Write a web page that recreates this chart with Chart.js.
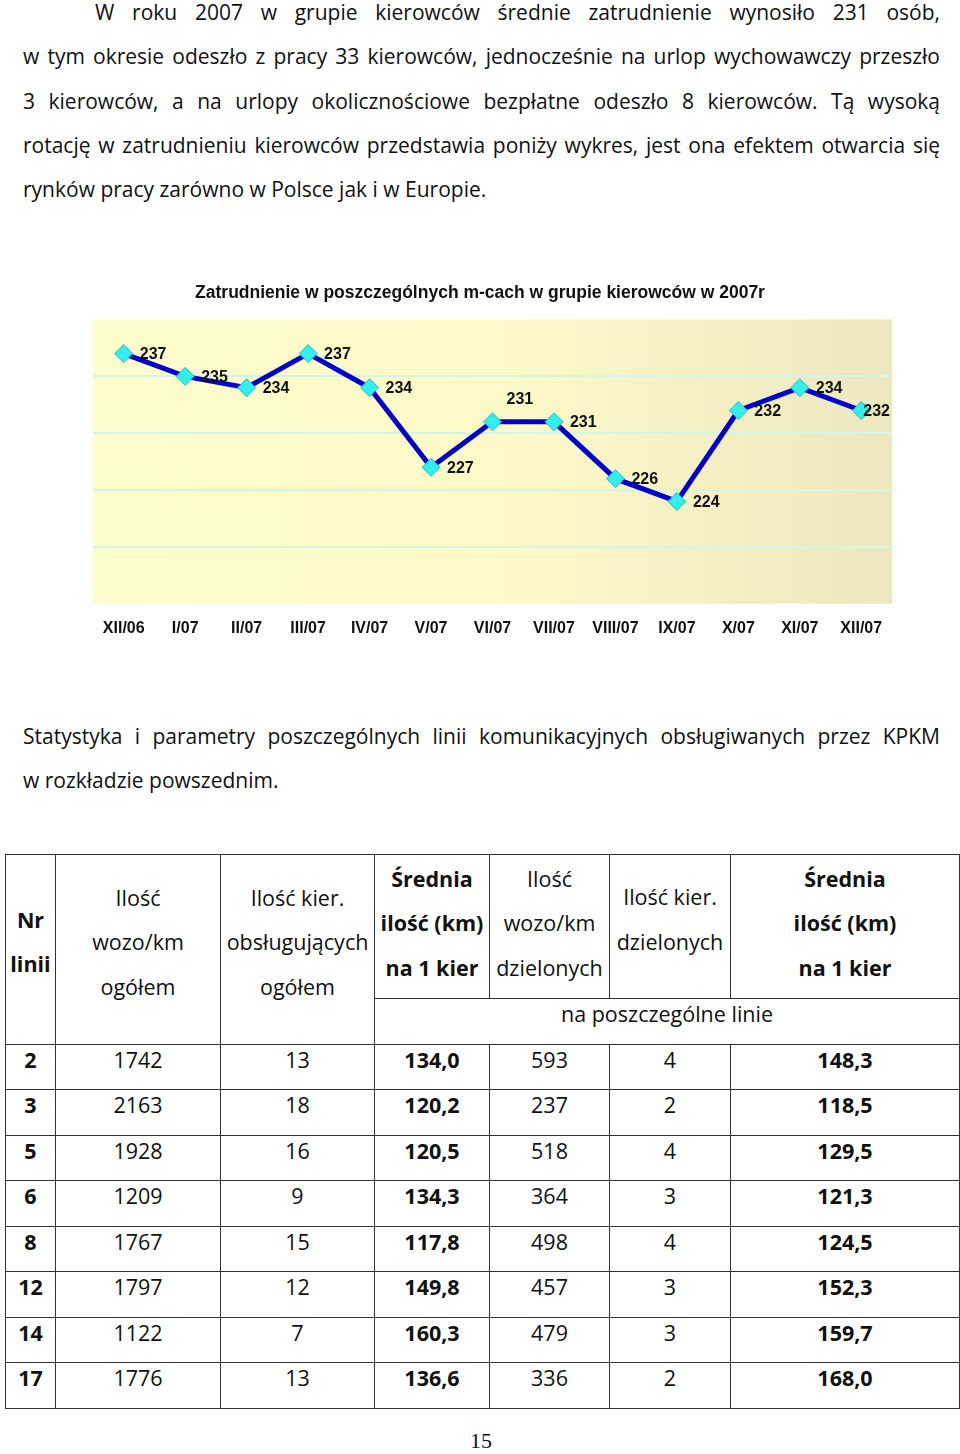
<!DOCTYPE html>
<html>
<head>
<meta charset="utf-8">
<script src="https://cdn.jsdelivr.net/npm/chart.js@4.4.0/dist/chart.umd.min.js"></script>
<style>
    body { margin: 0; width: 960px; height: 1454px; position: relative; overflow: hidden; background: #fff; font-family: 'Open Sans', sans-serif; color: #111; }
    .txt { position: absolute; left: 23px; width: 917px; font-size: 21px; line-height: 44.3px; }
    .txt div { white-space: nowrap; text-align: justify; text-align-last: justify; }
    .txt div.last { text-align-last: left; }
    .txt div.ind { padding-left: 72px; }
    #chartBox { position: absolute; left: 56px; top: 270px; width: 848px; height: 383px; }
    table { position: absolute; left: 5px; top: 854px; border-collapse: collapse; font-size: 21.5px; table-layout: fixed; }
    td { border: 1.6px solid #333; text-align: center; vertical-align: middle; padding: 0; line-height: 44.5px; }
    td span { position: relative; top: -7px; }
    td span.up3 { top: -3px; }
    .b { font-weight: bold; }
    tbody tr { height: 45.4px; }
    #page { position: absolute; left: 470px; top: 1428px; font-family: 'Liberation Serif', serif; font-size: 22px; }
</style>
</head>
<body>

<div class="txt" style="top:-10px">
    <div class="ind">W roku 2007 w grupie kierowców  średnie zatrudnienie wynosiło 231 osób,</div>
    <div>w tym okresie odeszło z pracy 33 kierowców, jednocześnie na urlop wychowawczy przeszło</div>
    <div>3 kierowców, a na urlopy okolicznościowe bezpłatne odeszło 8 kierowców. Tą wysoką</div>
    <div>rotację w zatrudnieniu kierowców przedstawia poniży wykres, jest ona efektem otwarcia się</div>
    <div class="last">rynków pracy zarówno w Polsce jak i w Europie.</div>
</div>

<div id="chartBox"><canvas id="chart"></canvas></div>

<div class="txt" style="top:714px">
    <div>Statystyka i parametry poszczególnych linii komunikacyjnych obsługiwanych przez KPKM</div>
    <div class="last">w rozkładzie powszednim.</div>
</div>

<table id="tab">
    <colgroup>
        <col style="width:50px"><col style="width:165px"><col style="width:154px"><col style="width:115px">
        <col style="width:120px"><col style="width:121px"><col style="width:229px">
    </colgroup>
    <thead>
        <tr style="height:144px">
            <td rowspan="2" class="b"><span>Nr<br>linii</span></td>
            <td rowspan="2"><span>Ilość<br>wozo/km<br>ogółem</span></td>
            <td rowspan="2"><span>Ilość kier.<br>obsługujących<br>ogółem</span></td>
            <td class="b"><span class="up3">Średnia<br>ilość (km)<br>na 1 kier</span></td>
            <td><span class="up3">Ilość<br>wozo/km<br>dzielonych</span></td>
            <td><span>Ilość kier.<br>dzielonych</span></td>
            <td class="b"><span class="up3">Średnia<br>ilość (km)<br>na 1 kier</span></td>
        </tr>
        <tr style="height:44px"><td colspan="4"><span>na poszczególne linie</span></td></tr>
    </thead>
    <tbody id="tbody"></tbody>
</table>

<div id="page">15</div>

<script>
// dane do wykresu
const chartTitle = 'Zatrudnienie w poszczególnych m-cach w grupie kierowców w 2007r';
const months = ['XII/06', 'I/07', 'II/07', 'III/07', 'IV/07', 'V/07', 'VI/07', 'VII/07', 'VIII/07', 'IX/07', 'X/07', 'XI/07', 'XII/07'];
const drivers = [237, 235, 234, 237, 234, 227, 231, 231, 226, 224, 232, 234, 232];

// dane do tabeli
const lines = ['2', '3', '5', '6', '8', '12', '14', '17'];
const kmTotal = ['1742', '2163', '1928', '1209', '1767', '1797', '1122', '1776'];
const driversTotal = ['13', '18', '16', '9', '15', '12', '7', '13'];
const avgTotal = ['134,0', '120,2', '120,5', '134,3', '117,8', '149,8', '160,3', '136,6'];
const kmShared = ['593', '237', '518', '364', '498', '457', '479', '336'];
const driversShared = ['4', '2', '4', '3', '4', '3', '3', '2'];
const avgShared = ['148,3', '118,5', '129,5', '121,3', '124,5', '152,3', '159,7', '168,0'];

const tbody = document.getElementById('tbody');
lines.forEach((nr, i) => {
    let tr = document.createElement('tr');
    tr.innerHTML = `<td class="b"><span>${nr}</span></td><td><span>${kmTotal[i]}</span></td><td><span>${driversTotal[i]}</span></td>` +
        `<td class="b"><span>${avgTotal[i]}</span></td><td><span>${kmShared[i]}</span></td><td><span>${driversShared[i]}</span></td>` +
        `<td class="b"><span>${avgShared[i]}</span></td>`;
    tbody.appendChild(tr);
});

// tło obszaru wykresu
const areaBg = {
    id: 'areaBg',
    beforeDraw(chart) {
        const { ctx, chartArea: a } = chart;
        let g = ctx.createLinearGradient(a.left, 0, a.right, 0);
        g.addColorStop(0, '#FFFDCC');
        g.addColorStop(0.5, '#FEFAC8');
        g.addColorStop(1, '#ECE7BF');
        ctx.save();
        ctx.fillStyle = g;
        ctx.fillRect(a.left, a.top, a.right - a.left, a.bottom - a.top);
        ctx.restore();
    }
};

// tytuł wyśrodkowany na całym płótnie (nie na obszarze wykresu)
const centerTitle = {
    id: 'centerTitle',
    afterDraw(chart) {
        const ctx = chart.ctx;
        ctx.save();
        ctx.font = 'bold 17.5px "Liberation Sans", Arial, sans-serif';
        ctx.fillStyle = '#111';
        ctx.textAlign = 'center';
        ctx.textBaseline = 'middle';
        ctx.fillText(chartTitle, chart.width / 2, 23);
        ctx.restore();
    }
};

// etykiety wartości przy punktach
const valueLabels = {
    id: 'valueLabels',
    afterDatasetsDraw(chart) {
        const ctx = chart.ctx;
        const meta = chart.getDatasetMeta(0);
        ctx.save();
        ctx.font = 'bold 16px "Liberation Sans", Arial, sans-serif';
        ctx.fillStyle = '#111';
        ctx.textBaseline = 'middle';
        ctx.textAlign = 'left';
        meta.data.forEach((pt, i) => {
            let dx = 16, dy = 1;
            if (i === 6) { dx = 14; dy = -22; }
            if (i === meta.data.length - 1) { dx = 2; }
            ctx.fillText(drivers[i], pt.x + dx, pt.y + dy);
        });
        ctx.restore();
    }
};

function initChart() {
    let ctx = document.getElementById('chart').getContext('2d');
    new Chart(ctx, {
        type: 'line',
        data: {
            labels: months,
            datasets: [{
                label: 'kierowcy',
                data: drivers,
                borderColor: '#0000CC',
                borderWidth: 5,
                tension: 0,
                pointStyle: 'rectRot',
                pointRadius: 9,
                pointHoverRadius: 9,
                pointBackgroundColor: '#33EEEE',
                pointBorderColor: '#26BDBD',
                pointBorderWidth: 1
            }]
        },
        options: {
            responsive: true,
            maintainAspectRatio: false,
            animation: false,
            layout: { padding: { left: 37, right: 12, top: 49.5, bottom: 0 } },
            plugins: {
                legend: { display: false },
                tooltip: { enabled: false },
                title: { display: false }
            },
            scales: {
                x: {
                    offset: true,
                    grid: { display: false, drawTicks: false },
                    border: { display: false },
                    ticks: {
                        color: '#111',
                        padding: 15,
                        maxRotation: 0,
                        autoSkip: false,
                        font: { family: '"Liberation Sans", Arial, sans-serif', size: 16, weight: 'bold' }
                    }
                },
                y: {
                    min: 215,
                    max: 240,
                    border: { display: false },
                    ticks: { display: false, stepSize: 5 },
                    grid: {
                        drawTicks: false,
                        lineWidth: 2,
                        color: c => (c.tick.value === 215 || c.tick.value === 240) ? 'rgba(0,0,0,0)' : '#D4F6E4'
                    }
                }
            }
        },
        plugins: [areaBg, valueLabels, centerTitle]
    });
}

initChart();
</script>
</body>
</html>
